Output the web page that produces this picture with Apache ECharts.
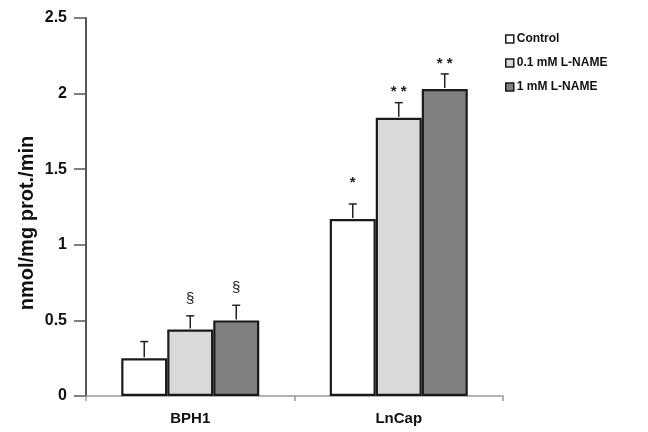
<!DOCTYPE html>
<html>
<head>
<meta charset="utf-8">
<script src="https://cdn.jsdelivr.net/npm/echarts@6/dist/echarts.min.js"></script>
<style>
  html, body { margin: 0; padding: 0; background: #fff; }
  #chart { width: 648px; height: 432px; }
</style>
</head>
<body>
<div id="chart"></div>
<script>
const categories = ["BPH1", "LnCap"];
const seriesNames = ["Control", "0.1 mM L-NAME", "1 mM L-NAME"];
const control = [0.25, 1.17];
const lname01 = [0.44, 1.84];
const lname1 = [0.50, 2.03];
const controlErr = [0.11, 0.10];
const lname01Err = [0.09, 0.10];
const lname1Err = [0.10, 0.10];
const controlMark = ["", "*"];
const lname01Mark = ["§", "* *"];
const lname1Mark = ["§", "* *"];
const yTicks = [0, 0.5, 1, 1.5, 2, 2.5];

const fills = ["#ffffff", "#d9d9d9", "#808080"];
const values = [control, lname01, lname1];
const errs = [controlErr, lname01Err, lname1Err];
const marks = [controlMark, lname01Mark, lname1Mark];
const BAR_W = 46;
const FONT = "'Liberation Sans', Arial, sans-serif";

// gap between error cap and the mark, by symbol
const markGap = { "§": 10, "*": 14, "* *": 3 };

const chart = echarts.init(document.getElementById("chart"));

const barSeries = seriesNames.map((name, i) => ({
  name: name,
  type: "bar",
  data: values[i],
  barWidth: BAR_W,
  barGap: "0%",
  itemStyle: { color: fills[i], borderColor: "#1a1a1a", borderWidth: 2.2 },
  silent: true,
  z: 2
}));

// error bars + significance marks, drawn above each bar
const errSeries = seriesNames.map((name, i) => ({
  type: "custom",
  data: values[i].map((v, j) => [j, v, v + errs[i][j]]),
  z: 3,
  silent: true,
  renderItem: function (params, api) {
    const cat = api.value(0);
    const base = api.coord([cat, api.value(1)]);
    const top = api.coord([cat, api.value(2)]);
    const x = base[0] + (i - 1) * BAR_W;
    const mark = marks[i][params.dataIndex];
    const children = [
      { type: "line", shape: { x1: x, y1: base[1] - 1, x2: x, y2: top[1] },
        style: { stroke: "#222", lineWidth: 1.5 } },
      { type: "line", shape: { x1: x - 4, y1: top[1], x2: x + 4, y2: top[1] },
        style: { stroke: "#222", lineWidth: 1.5 } }
    ];
    if (mark) {
      children.push({
        type: "text",
        style: {
          text: mark, x: x, y: top[1] - markGap[mark],
          textAlign: "center", textVerticalAlign: "bottom",
          font: (mark === "§" ? "15px " : "bold 15px ") + FONT,
          fill: "#222"
        }
      });
    }
    return { type: "group", children: children };
  }
}));

chart.setOption({
  animation: false,
  backgroundColor: "#fff",
  grid: { left: 86, right: 145, top: 18, bottom: 36 },
  legend: {
    data: seriesNames,
    orient: "vertical",
    left: 500,
    top: 28,
    itemWidth: 8,
    itemHeight: 8,
    itemGap: 12,
    icon: "rect",
    itemStyle: { borderColor: "#1a1a1a", borderWidth: 1.5 },
    textStyle: { fontFamily: FONT, fontWeight: "bold", fontSize: 12, color: "#111", padding: [0, 0, 0, -2] }
  },
  xAxis: {
    type: "category",
    data: categories,
    axisLine: { lineStyle: { color: "#999", width: 1.5 } },
    axisTick: { show: true, length: 5, lineStyle: { color: "#999", width: 1.5 } },
    axisLabel: { fontFamily: FONT, fontWeight: "bold", fontSize: 15, color: "#111", margin: 15 }
  },
  yAxis: {
    type: "value",
    min: yTicks[0],
    max: yTicks[yTicks.length - 1],
    interval: 0.5,
    name: "nmol/mg prot./min",
    nameLocation: "middle",
    nameGap: 49,
    nameMoveOverlap: false,
    nameTextStyle: { fontFamily: FONT, fontWeight: "bold", fontSize: 20, color: "#111", padding: [0, 32, 0, 0] },
    axisLine: { show: true, lineStyle: { color: "#555", width: 2 } },
    axisTick: { show: true, length: 12, lineStyle: { color: "#555", width: 1.5 } },
    axisLabel: { fontFamily: FONT, fontWeight: "bold", fontSize: 16, color: "#111", margin: 19 },
    splitLine: { show: false }
  },
  series: barSeries.concat(errSeries)
});
</script>
</body>
</html>
